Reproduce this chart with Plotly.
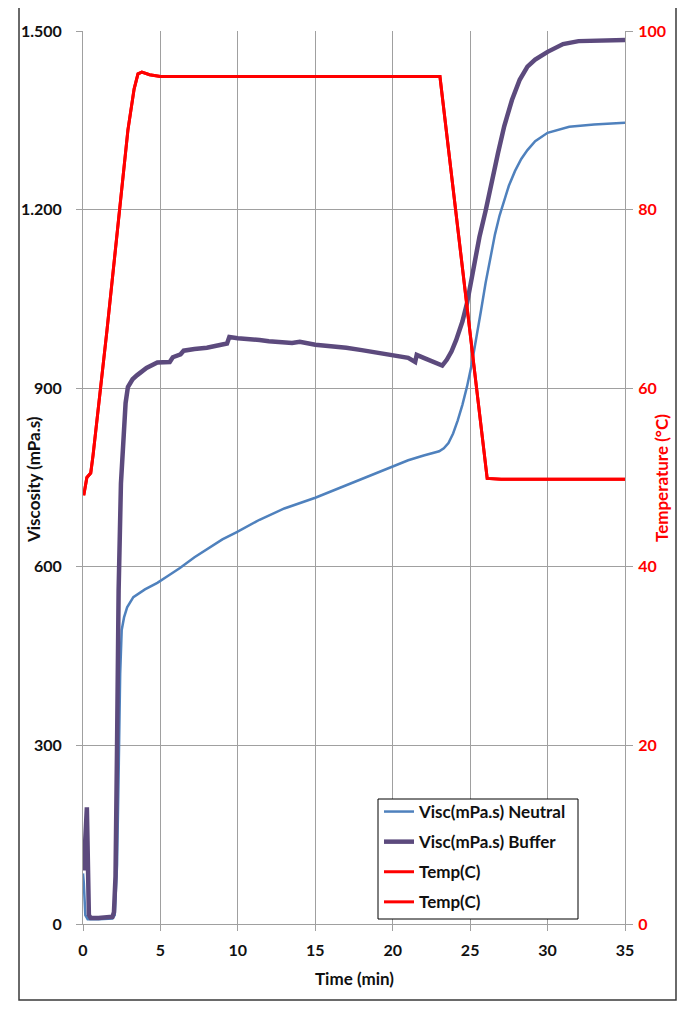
import plotly.graph_objects as go

# ---- data ----
t_neutral = [0, 0.05, 0.15, 0.3, 1.0, 1.9, 2.05, 2.2, 2.3, 2.4, 2.5, 2.65, 2.85, 3.25, 4.0, 4.8, 5.5, 6.26,
             7.2, 8.2, 9.0, 9.9, 11.4, 13.0, 15.0, 17.0, 19.0, 20.0, 21.0, 22.0, 23.0, 23.3, 23.6, 23.9,
             24.2, 24.5, 24.8, 25.1, 25.4, 25.7, 26.0, 26.3, 26.6, 26.9, 27.2, 27.5, 27.9, 28.3, 28.7,
             29.2, 30.0, 31.4, 33.0, 35.0]
visc_neutral = [85, 70, 15, 8, 8, 9, 15, 100, 250, 420, 494, 515, 532, 549, 562, 573, 585, 598,
                616, 633, 646, 658, 679, 698, 716, 737, 758, 769, 779, 787, 794, 799, 808, 824,
                846, 872, 903, 940, 983, 1030, 1077, 1120, 1158, 1190, 1217, 1240, 1265, 1285, 1300,
                1315, 1329, 1339, 1343, 1346]

t_buffer = [0.05, 0.25, 0.38, 0.5, 1.0, 1.9, 2.0, 2.1, 2.2, 2.3, 2.45, 2.6, 2.75, 2.9, 3.2, 3.5, 4.1, 4.8,
            5.6, 5.8, 6.3, 6.5, 6.9, 7.2, 8.0, 8.9, 9.3, 9.45, 10.0, 11.4, 12.0, 13.5, 14.0, 15.0,
            16.0, 17.0, 18.0, 19.0, 20.0, 21.0, 21.45, 21.55, 22.0, 22.5, 23.2, 23.5, 23.8, 24.1,
            24.5, 24.8, 25.2, 25.6, 26.0, 26.4, 26.8, 27.2, 27.7, 28.2, 28.7, 29.2, 30.0, 31.0,
            32.0, 35.0]
visc_buffer = [90, 196, 15, 10, 10, 12, 20, 80, 300, 560, 740, 820, 875, 902, 915, 922, 934, 943,
               944, 952, 957, 963, 965, 966, 968, 972, 975, 986, 984, 981, 979, 976, 978, 973,
               971, 968, 964, 960, 956, 951, 944, 956, 951, 945, 938, 948, 962, 981,
               1012, 1043, 1099, 1154, 1198, 1250, 1295, 1340, 1384, 1418, 1440, 1452, 1465, 1478,
               1483, 1485]

t_temp = [0.05, 0.25, 0.5, 0.65, 1.55, 2.9, 3.3, 3.55, 3.8, 4.3, 5.0, 23.05, 26.1, 27.0, 35.0]
temp_c = [48.0, 50.0, 50.5, 52.5, 66.5, 88.9, 93.5, 95.2, 95.4, 95.1, 94.9, 94.9, 49.9, 49.8, 49.8]

visc_ticks = [0, 300, 600, 900, 1200, 1500]
visc_tick_text = ["0", "300", "600", "900", "1.200", "1.500"]
temp_ticks = [0, 20, 40, 60, 80, 100]
time_ticks = [0, 5, 10, 15, 20, 25, 30, 35]

FONT = "Lato"
BLUE = "#4F81BD"
PURPLE = "#5C4A7D"
RED = "#FF0000"
GRID = "#a0a0a0"
TXT = "#111111"

fig = go.Figure()
fig.add_trace(go.Scatter(x=t_neutral, y=visc_neutral, mode="lines", name="Visc(mPa.s) Neutral",
                         line=dict(color=BLUE, width=2.5), legendgroup="a"))
fig.add_trace(go.Scatter(x=t_buffer, y=visc_buffer, mode="lines", name="Visc(mPa.s) Buffer",
                         line=dict(color=PURPLE, width=4.5), legendgroup="b"))
fig.add_trace(go.Scatter(x=t_temp, y=temp_c, mode="lines", name="Temp(C)", yaxis="y2",
                         line=dict(color=RED, width=3), legendgroup="c"))
fig.add_trace(go.Scatter(x=t_temp, y=temp_c, mode="lines", name="Temp(C)", yaxis="y2",
                         line=dict(color=RED, width=3), legendgroup="d"))

# page body has an 8px margin -> figure coords = screen coords - 8
OFF = 8
L, R, T, B = 83 - OFF, 625 - OFF, 31 - OFF, 924 - OFF
W, H = 689 - OFF, 1012 - OFF

def px_x(p):
    return (p - OFF - L) / float(R - L)

def px_y(p):
    return (B - (p - OFF)) / float(B - T)

fig.update_layout(
    width=W, height=H,
    margin=dict(l=L, r=W - R, t=T, b=H - B),
    paper_bgcolor="white", plot_bgcolor="white",
    font=dict(family=FONT, size=16, color=TXT),
    showlegend=True,
    legend=dict(x=px_x(379), y=px_y(794), xanchor="left", yanchor="top",
                bgcolor="rgba(0,0,0,0)", borderwidth=0,
                font=dict(family=FONT, size=17, color=TXT, weight="bold"),
                traceorder="grouped", tracegroupgap=5, itemwidth=30),
    xaxis=dict(range=[0, 35], tickvals=time_ticks, showgrid=True, gridcolor=GRID, gridwidth=1,
               zeroline=False, showline=True, linecolor=GRID, linewidth=1,
               ticks="outside", ticklen=6, tickcolor=GRID, ticklabelstandoff=6,
               tickfont=dict(family=FONT, size=16, color=TXT, weight="bold")),
    yaxis=dict(range=[0, 1500], tickvals=visc_ticks, ticktext=visc_tick_text, showgrid=True,
               gridcolor=GRID, gridwidth=1, zeroline=False, showline=True, linecolor=GRID,
               linewidth=1, ticks="outside", ticklen=6, tickcolor=GRID, ticklabelstandoff=11,
               tickfont=dict(family=FONT, size=16, color=TXT, weight="bold")),
    yaxis2=dict(range=[0, 100], tickvals=temp_ticks, overlaying="y", side="right",
                showgrid=False, zeroline=False, showline=True, linecolor=GRID, linewidth=1,
                ticks="outside", ticklen=7, tickcolor=GRID, ticklabelstandoff=2,
                tickfont=dict(family=FONT, size=16, color=RED, weight="bold")),
    shapes=[
        dict(type="rect", xref="paper", yref="paper", x0=px_x(19), x1=px_x(676),
             y0=px_y(1000), y1=px_y(6), line=dict(color="#3a3a3a", width=1.5),
             fillcolor="rgba(0,0,0,0)", layer="below"),
        dict(type="line", xref="paper", yref="paper", x0=px_x(687), x1=px_x(687),
             y0=px_y(1012), y1=px_y(0), line=dict(color="#c5d5ea", width=1)),
        # legend frame
        dict(type="rect", xref="paper", yref="paper", x0=px_x(378), x1=px_x(578),
             y0=px_y(919), y1=px_y(799), line=dict(color="#000000", width=1),
             fillcolor="white", layer="above"),
    ],
    annotations=[
        dict(text="<b>Viscosity (mPa.s)</b>", xref="paper", yref="paper", x=px_x(33), y=px_y(480),
             showarrow=False, textangle=-90, font=dict(family=FONT, size=17, color=TXT),
             xanchor="center", yanchor="middle"),
        dict(text="<b>Temperature (°C)</b>", xref="paper", yref="paper", x=px_x(661), y=px_y(478),
             showarrow=False, textangle=-90, font=dict(family=FONT, size=17, color=RED),
             xanchor="center", yanchor="middle"),
        dict(text="<b>Time (min)</b>", xref="paper", yref="paper", x=px_x(354), y=px_y(978),
             showarrow=False, font=dict(family=FONT, size=17, color=TXT),
             xanchor="center", yanchor="middle"),
    ],
)

fig.write_html("out.html")
